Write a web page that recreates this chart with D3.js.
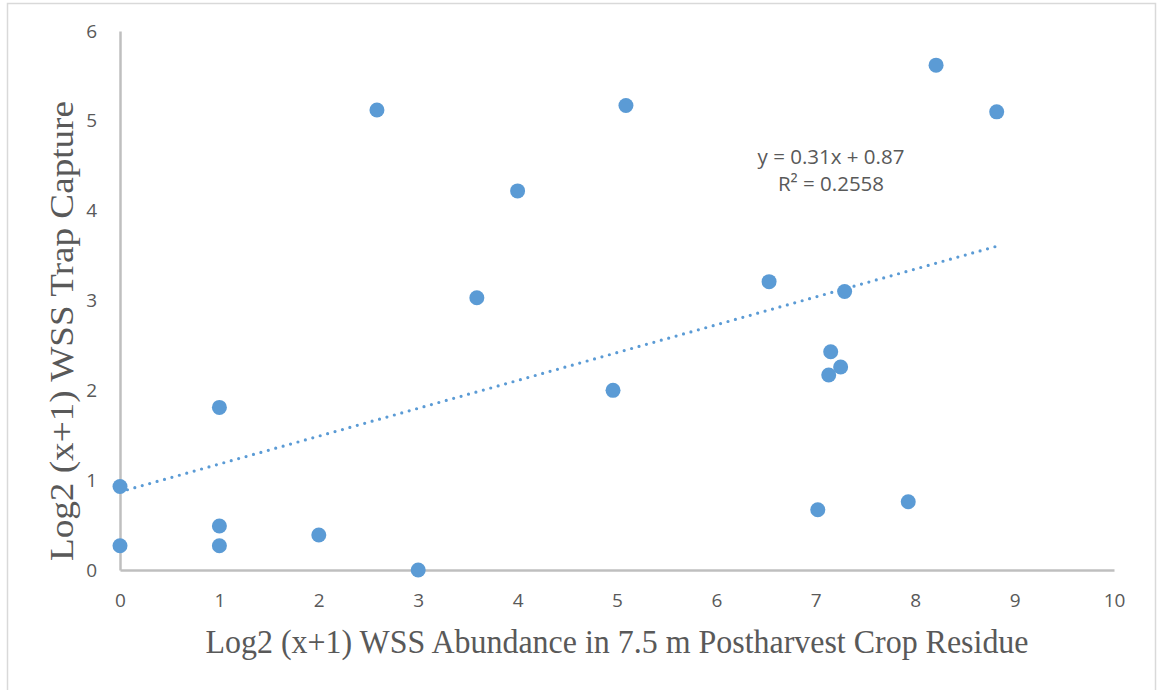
<!DOCTYPE html>
<html lang="en">
<head>
    <meta charset="UTF-8">
    <script src="https://d3js.org/d3.v7.min.js"></script>
    <style>
        body { margin: 0; background: #fff; }
    </style>
</head>
<body>
    <div id="chart"></div>
    <script>
        // log2(x+1) abundance in crop residue vs log2(x+1) trap capture
        var abundance = [0, 0, 1, 1, 1, 2, 3, 2.585, 3.59, 4.0, 4.96, 5.09, 6.53, 7.02, 7.13, 7.15, 7.25, 7.29, 7.93, 8.21, 8.82];
        var capture   = [0.93, 0.27, 0.49, 0.27, 1.81, 0.39, 0, 5.12, 3.03, 4.22, 2.0, 5.17, 3.21, 0.67, 2.17, 2.43, 2.26, 3.10, 0.76, 5.62, 5.10];

        var xTicks = [0, 1, 2, 3, 4, 5, 6, 7, 8, 9, 10];
        var yTicks = [0, 1, 2, 3, 4, 5, 6];

        // trendline as reported on the chart
        var slope = 0.31, intercept = 0.87, rSquared = 0.2558;

        var xTitle = "Log2 (x+1) WSS Abundance in 7.5 m Postharvest Crop Residue";
        var yTitle = "Log2 (x+1) WSS Trap Capture";

        var width = 1157,
            height = 690;

        var gray = "#595959",
            axisColor = "#bfbfbf",
            dotColor = "#5b9bd5";

        var svg = d3.select("#chart")
            .append("svg")
            .attr("width", width)
            .attr("height", height);

        // outer chart border
        svg.append("rect")
            .attr("x", 7.5)
            .attr("y", 3.5)
            .attr("width", 1148)
            .attr("height", 700)
            .attr("fill", "none")
            .attr("stroke", "#d9d9d9")
            .attr("stroke-width", 1.5);

        var x = d3.scaleLinear().domain([0, 10]).range([120, 1114]);
        var y = d3.scaleLinear().domain([0, 6]).range([570, 31]);

        // axes
        var xAxis = svg.append("g")
            .attr("transform", "translate(0," + y(0) + ")")
            .call(d3.axisBottom(x).tickValues(xTicks).tickSize(0).tickPadding(24).tickFormat(d3.format("d")));
        xAxis.select(".domain").attr("stroke", axisColor).attr("stroke-width", 2.5);

        var yAxis = svg.append("g")
            .attr("transform", "translate(" + x(0) + ",0)")
            .call(d3.axisLeft(y).tickValues(yTicks).tickSize(0).tickPadding(23).tickFormat(d3.format("d")));
        yAxis.select(".domain").attr("stroke", axisColor).attr("stroke-width", 2.5);

        svg.selectAll(".tick text")
            .attr("fill", gray)
            .style("font-family", "'Open Sans', 'Noto Sans', sans-serif")
            .style("font-size", "19px");

        // trendline
        var xMax = d3.max(abundance);
        svg.append("line")
            .attr("x1", x(0))
            .attr("y1", y(intercept))
            .attr("x2", x(xMax))
            .attr("y2", y(intercept + slope * xMax))
            .attr("stroke", dotColor)
            .attr("stroke-width", 3.2)
            .attr("stroke-linecap", "round")
            .attr("stroke-dasharray", "0 7.7");

        // points
        svg.selectAll("circle.pt")
            .data(abundance)
            .enter()
            .append("circle")
            .attr("class", "pt")
            .attr("cx", function (d) { return x(d); })
            .attr("cy", function (d, i) { return y(capture[i]); })
            .attr("r", 7.5)
            .attr("fill", dotColor);

        // equation label
        var eq = svg.append("text")
            .attr("x", 831)
            .attr("y", 164)
            .attr("text-anchor", "middle")
            .attr("fill", gray)
            .style("font-family", "'Open Sans', 'Noto Sans', sans-serif")
            .style("font-size", "20.5px");
        eq.append("tspan").attr("x", 831).text("y = " + slope + "x + " + intercept);
        eq.append("tspan").attr("x", 831).attr("dy", 27).text("R² = " + rSquared);

        // axis titles
        svg.append("text")
            .attr("x", 617)
            .attr("y", 653)
            .attr("text-anchor", "middle")
            .attr("fill", gray)
            .attr("textLength", 823)
            .attr("lengthAdjust", "spacingAndGlyphs")
            .style("font-family", "'Liberation Serif', serif")
            .style("font-size", "34px")
            .text(xTitle);

        svg.append("text")
            .attr("transform", "translate(73,331) rotate(-90)")
            .attr("text-anchor", "middle")
            .attr("fill", gray)
            .attr("textLength", 460)
            .attr("lengthAdjust", "spacingAndGlyphs")
            .style("font-family", "'Liberation Serif', serif")
            .style("font-size", "34px")
            .text(yTitle);
    </script>
</body>
</html>
